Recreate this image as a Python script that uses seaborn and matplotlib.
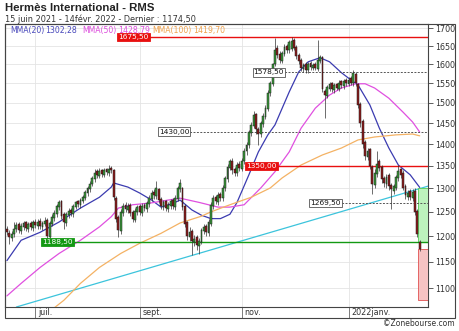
import numpy as np
import pandas as pd
import matplotlib
matplotlib.use("Agg")
import matplotlib.pyplot as plt
import matplotlib.ticker as mticker
from matplotlib.patches import Rectangle
import seaborn as sns

# ---------------- data ----------------
dates = pd.bdate_range("2021-06-15", "2022-02-14")

opens = [1215, 1206, 1196, 1204, 1214, 1224, 1210, 1219, 1228, 1214,
         1226, 1216, 1230, 1220, 1232, 1218, 1225, 1234, 1198, 1225,
         1238, 1246, 1260, 1272, 1245, 1226, 1244, 1254, 1246, 1260,
         1272, 1264, 1274, 1280, 1290, 1298, 1310, 1320, 1338, 1328,
         1340, 1330, 1342, 1334, 1346, 1340, 1280, 1240, 1210, 1248,
         1265, 1254, 1264, 1250, 1234, 1250, 1262, 1248, 1264, 1256,
         1266, 1278, 1292, 1284, 1298, 1278, 1260, 1272, 1256, 1262,
         1276, 1260, 1278, 1298, 1300, 1262, 1228, 1198, 1210, 1188,
         1198, 1180, 1188, 1210, 1220, 1206, 1225, 1262, 1282, 1270,
         1288, 1280, 1300, 1320, 1345, 1362, 1342, 1334, 1355, 1344,
         1360, 1383, 1398, 1426, 1444, 1472, 1437, 1424, 1448, 1466,
         1486, 1524, 1548, 1602, 1645, 1628, 1610, 1628, 1650, 1638,
         1642, 1668, 1648, 1625, 1612, 1588, 1600, 1584, 1604, 1590,
         1600, 1588, 1610, 1620, 1530, 1518, 1536, 1550, 1532, 1548,
         1536, 1555, 1543, 1560, 1548, 1565, 1550, 1575, 1548, 1498,
         1455, 1405, 1370, 1388, 1348, 1308, 1332, 1360, 1348, 1322,
         1310, 1330, 1308, 1295, 1302, 1322, 1342, 1335, 1305, 1282,
         1294, 1280, 1295, 1252, 1188]

closes = [1208, 1198, 1205, 1215, 1222, 1212, 1220, 1226, 1216, 1224,
          1218, 1228, 1222, 1230, 1220, 1226, 1232, 1200, 1226, 1240,
          1248, 1262, 1270, 1242, 1228, 1245, 1252, 1248, 1262, 1270,
          1266, 1276, 1282, 1292, 1300, 1310, 1322, 1335, 1330, 1338,
          1332, 1340, 1336, 1342, 1340, 1282, 1236, 1212, 1250, 1262,
          1256, 1262, 1248, 1236, 1252, 1260, 1250, 1262, 1258, 1268,
          1280, 1290, 1285, 1300, 1275, 1262, 1270, 1258, 1265, 1272,
          1262, 1280, 1300, 1312, 1260, 1225, 1200, 1208, 1190, 1195,
          1182, 1190, 1212, 1218, 1208, 1230, 1265, 1280, 1272, 1286,
          1280, 1302, 1322, 1348, 1360, 1340, 1335, 1352, 1345, 1362,
          1385, 1398, 1428, 1445, 1470, 1435, 1425, 1450, 1468, 1488,
          1525, 1550, 1600, 1640, 1625, 1612, 1630, 1648, 1640, 1660,
          1665, 1645, 1622, 1608, 1590, 1598, 1585, 1600, 1592, 1598,
          1590, 1612, 1620, 1535, 1520, 1540, 1548, 1535, 1546, 1538,
          1552, 1545, 1556, 1550, 1560, 1552, 1578, 1550, 1495, 1450,
          1400, 1372, 1385, 1350, 1310, 1335, 1355, 1345, 1320, 1312,
          1325, 1305, 1298, 1305, 1325, 1338, 1330, 1302, 1285, 1290,
          1282, 1292, 1250, 1205, 1174.5]

highs = [1220, 1212, 1210, 1230, 1228, 1229, 1226, 1231, 1232, 1229,
         1232, 1234, 1236, 1235, 1237, 1232, 1240, 1238, 1232, 1245,
         1254, 1266, 1276, 1275, 1250, 1250, 1258, 1258, 1266, 1274,
         1276, 1280, 1286, 1297, 1305, 1316, 1328, 1342, 1344, 1346,
         1344, 1345, 1346, 1352, 1350, 1344, 1284, 1244, 1256, 1268,
         1270, 1268, 1268, 1254, 1258, 1265, 1266, 1268, 1268, 1274,
         1286, 1296, 1298, 1316, 1302, 1282, 1276, 1276, 1270, 1278,
         1280, 1286, 1306, 1321, 1304, 1266, 1232, 1218, 1214, 1202,
         1203, 1196, 1216, 1224, 1225, 1236, 1270, 1286, 1286, 1292,
         1292, 1308, 1328, 1354, 1366, 1368, 1348, 1358, 1360, 1368,
         1392, 1404, 1434, 1452, 1480, 1476, 1442, 1456, 1474, 1494,
         1532, 1556, 1605, 1672, 1652, 1635, 1636, 1655, 1656, 1666,
         1675.5, 1672, 1652, 1630, 1618, 1605, 1606, 1606, 1609, 1604,
         1606, 1668, 1626, 1624, 1536, 1546, 1554, 1554, 1552, 1552,
         1558, 1560, 1562, 1564, 1566, 1570, 1584, 1580, 1552, 1502,
         1460, 1410, 1392, 1392, 1352, 1342, 1385, 1365, 1352, 1328,
         1332, 1334, 1312, 1310, 1330, 1352, 1346, 1340, 1310, 1296,
         1298, 1298, 1300, 1256, 1192]

lows = [1202, 1184, 1190, 1198, 1208, 1206, 1204, 1212, 1210, 1208,
        1212, 1210, 1216, 1214, 1214, 1212, 1220, 1192, 1194, 1220,
        1232, 1240, 1254, 1236, 1215, 1220, 1238, 1242, 1240, 1255,
        1260, 1258, 1268, 1275, 1284, 1292, 1305, 1314, 1324, 1322,
        1326, 1325, 1330, 1328, 1334, 1276, 1228, 1198, 1205, 1242,
        1250, 1248, 1242, 1230, 1228, 1244, 1244, 1242, 1252, 1250,
        1260, 1272, 1278, 1278, 1268, 1255, 1254, 1252, 1250, 1256,
        1256, 1254, 1272, 1292, 1254, 1218, 1192, 1190, 1162, 1180,
        1172, 1165, 1184, 1204, 1200, 1200, 1220, 1256, 1266, 1264,
        1274, 1274, 1294, 1314, 1340, 1332, 1328, 1328, 1338, 1338,
        1355, 1376, 1392, 1420, 1438, 1425, 1398, 1418, 1442, 1460,
        1480, 1518, 1542, 1595, 1618, 1603, 1604, 1622, 1632, 1630,
        1636, 1638, 1615, 1600, 1582, 1580, 1576, 1578, 1585, 1584,
        1584, 1582, 1604, 1528, 1462, 1512, 1530, 1528, 1526, 1532,
        1530, 1538, 1536, 1544, 1542, 1546, 1544, 1542, 1488, 1442,
        1392, 1364, 1364, 1344, 1287, 1300, 1326, 1338, 1312, 1304,
        1302, 1296, 1255, 1288, 1296, 1316, 1324, 1296, 1278, 1276,
        1276, 1274, 1244, 1198, 1170]

# moving averages (session number, value)
ma20_day = [0, 6, 14, 22, 31, 39, 44, 45, 51, 56, 61, 65, 70, 73, 78, 82, 86, 90, 94,
            97, 102, 106, 110, 113, 119, 123, 127, 132, 136, 141, 145, 148, 153, 157,
            161, 165, 170, 174]
ma20_val = [1152, 1192, 1208, 1229, 1258, 1281, 1303, 1312, 1303, 1290, 1275, 1260, 1268,
            1275, 1254, 1243, 1236, 1236, 1245, 1270, 1330, 1382, 1422, 1446, 1528, 1580,
            1607, 1618, 1607, 1578, 1559, 1546, 1495, 1438, 1391, 1352, 1330, 1302.28]
ma50_day = [0, 6, 14, 22, 31, 39, 44, 47, 53, 61, 68, 73, 81, 89, 94, 100, 107, 113, 119,
            124, 130, 136, 141, 147, 151, 155, 161, 167, 171, 174]
ma50_val = [1086, 1109, 1139, 1166, 1192, 1219, 1240, 1258, 1265, 1269, 1275, 1279, 1270,
            1260, 1260, 1265, 1301, 1337, 1382, 1438, 1487, 1520, 1538, 1549, 1549, 1538,
            1512, 1477, 1453, 1428.79]
ma100_day = [18, 24, 31, 39, 48, 56, 65, 73, 82, 86, 94, 103, 111, 116, 124, 133, 141, 148,
             155, 164, 171, 174]
ma100_val = [1058, 1078, 1109, 1139, 1166, 1186, 1206, 1227, 1241, 1250, 1265, 1281, 1301,
             1323, 1352, 1375, 1391, 1410, 1417, 1422, 1424, 1419.70]

trend_day = [4, 177.5]
trend_val = [1066, 1305]

level_values = [1675.50, 1578.50, 1430.00, 1350.00, 1269.50, 1188.50]
level_start = [47, 104, 64, 101, 128, 15]
level_kind = ["res", "dash", "dash", "res", "dash", "sup"]

green_zone = [1188.5, 1300]
red_zone = [1078, 1174.5]

month_names = {7: "juil.", 9: "sept.", 11: "nov.", 1: "2022janv."}

# ---------------- figure ----------------
sns.set_theme(style="white")
plt.rcParams['font.family'] = ['DejaVu Sans']

W, H = 460, 331
fig = plt.figure(figsize=(W / 100, H / 100), dpi=100)
fig.patch.set_facecolor("white")
ax = fig.add_axes([5 / W, 1 - 307 / H, 423 / W, 283 / H])
ax.set_facecolor("white")
ax.set_yscale("log")
XMAX = 177.5
ax.set_xlim(-0.8, XMAX)
ax.set_ylim(1066, 1712)

x = np.arange(len(closes))
o = np.array(opens, float)
c = np.array(closes, float)
h = np.array(highs, float)
l = np.array(lows, float)

# grid
maj = list(range(1100, 1701, 50))
ax.yaxis.set_major_locator(mticker.FixedLocator(maj))
ax.yaxis.set_minor_locator(mticker.FixedLocator([v + 25 for v in range(1075, 1701, 50)]))
ax.yaxis.set_major_formatter(mticker.FuncFormatter(lambda v, p: f"{int(round(v))}"))
ax.yaxis.set_minor_formatter(mticker.NullFormatter())
ax.yaxis.tick_right()
ax.tick_params(axis="y", which="major", direction="out", length=3.5, width=0.6,
               color="#444", labelsize=5.8, labelcolor="#333", pad=1.5)
ax.tick_params(axis="y", which="minor", direction="out", length=2, width=0.5, color="#444")

month_pos = []
month_lab = []
for m in [7, 9, 11, 1]:
    idx = [i for i, d in enumerate(dates) if d.month == m][0]
    month_pos.append(idx)
    month_lab.append(month_names[m])
ax.set_xticks(month_pos)
ax.set_xticklabels([])
ax.tick_params(axis="x", which="major", direction="out", length=8, width=0.6,
               color="#666", bottom=True)
ax.grid(True, which="major", axis="both", color="#e4e4e4", lw=0.6)
ax.set_axisbelow(True)
for pos, lab in zip(month_pos, month_lab):
    ax.text(pos + 1.2, -0.019, lab, transform=ax.get_xaxis_transform(),
            ha="left", va="center", fontsize=5.8, color="#333")

# trend line
ax.plot(trend_day, trend_val, color="#3cc4dc", lw=0.9, zorder=2)

# moving averages via seaborn
ma_df = pd.concat([
    pd.DataFrame({"day": ma20_day, "value": ma20_val, "series": "MMA(20)"}),
    pd.DataFrame({"day": ma50_day, "value": ma50_val, "series": "MMA(50)"}),
    pd.DataFrame({"day": ma100_day, "value": ma100_val, "series": "MMA(100)"}),
])
palette = {"MMA(20)": "#3b3bb0", "MMA(50)": "#e050e0", "MMA(100)": "#f4b264"}
sns.lineplot(data=ma_df, x="day", y="value", hue="series", palette=palette,
             linewidth=0.9, legend=False, ax=ax, errorbar=None, zorder=3)
ax.set_xlabel("")
ax.set_ylabel("")

# levels
for val, start, kind in zip(level_values, level_start, level_kind):
    if kind == "res":
        ax.hlines(val, start, XMAX, color="#e81010", lw=1.0, zorder=4)
        fc, ec, tc = "#e81010", "#e81010", "white"
    elif kind == "sup":
        ax.hlines(val, start, XMAX, color="#139913", lw=1.0, zorder=4)
        fc, ec, tc = "#139913", "#139913", "white"
    else:
        ax.hlines(val, start, XMAX, color="#555555", lw=0.7, linestyles=(0, (2, 1.5)), zorder=4)
        fc, ec, tc = "white", "#555555", "#111"
    ax.text(start, val, f"{val:.2f}".replace(".", ","), ha="left", va="center",
            fontsize=5.3, color=tc, zorder=8,
            bbox=dict(boxstyle="square,pad=0.15", fc=fc, ec=ec, lw=0.6))

# zones at the right
ax.add_patch(Rectangle((173.3, green_zone[0]), XMAX - 173.3, green_zone[1] - green_zone[0],
                       fc="#bdf2bd", ec="#55cc55", lw=0.6, zorder=3.5))
ax.add_patch(Rectangle((173.3, red_zone[0]), XMAX - 173.3, red_zone[1] - red_zone[0],
                       fc="#f6c3c3", ec="#e05050", lw=0.6, zorder=3.5))

# candles
up = c >= o
ax.vlines(x, l, h, color="#333333", lw=0.5, zorder=5)
body_lo = np.minimum(o, c)
body_h = np.maximum(np.abs(c - o), 0.8)
cols = np.where(up, "#3a9a3a", "#8e1c1c")
ax.bar(x, body_h, bottom=body_lo, width=0.78, color=cols, edgecolor="#1a1a1a",
       linewidth=0.35, zorder=6)

for sp in ax.spines.values():
    sp.set_color("#444")
    sp.set_linewidth(0.8)

# outer frame (includes date band and price scale)
fig.add_artist(Rectangle((5 / W, 1 - 318 / H), 450 / W, 294 / H, transform=fig.transFigure,
                         fill=False, ec="#444", lw=0.8))

# texts
fig.text(5 / W, 1 - 3 / H, "Hermès International - RMS", fontsize=8.2, fontweight="bold",
         family="Liberation Sans", va="top", ha="left", color="#222")
fig.text(5 / W, 1 - 14.5 / H, "15 juin 2021 - 14févr. 2022 - Dernier : 1174,50", fontsize=5.9,
         va="top", ha="left", color="#333")
leg = [("MMA(20)", 10, "#4848bb"), ("1302,28", 45, "#4848bb"),
       ("MMA(50)", 82, "#dd4ddd"), ("1428,79", 118, "#dd4ddd"),
       ("MMA(100)", 152, "#f0a24c"), ("1419,70", 193, "#f0a24c")]
for t, px, col in leg:
    fig.text(px / W, 1 - 30 / H, t, fontsize=5.6, color=col, ha="left", va="center")
fig.text(455 / W, 1 - 324 / H, "©Zonebourse.com", fontsize=5.5, color="#333",
         ha="right", va="center")

fig.savefig("out.png", dpi=100, facecolor="white")
